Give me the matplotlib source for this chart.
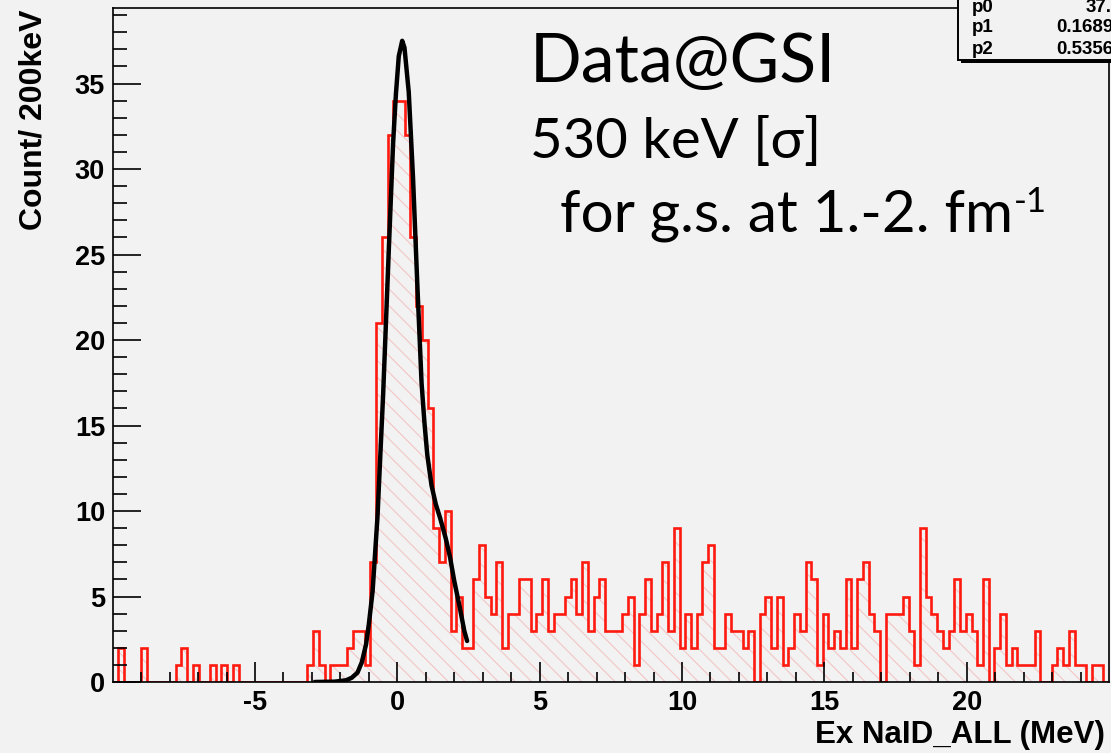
import numpy as np
import matplotlib
matplotlib.use("Agg")
import matplotlib.pyplot as plt
from matplotlib.patches import Rectangle

# histogram: 174 bins between -10 and 25 MeV
x_min, x_max = -10.0, 25.0
counts = [
    0, 2, 0, 0, 0, 2, 0, 0, 0, 0,
    0, 1, 2, 0, 1, 0, 0, 1, 0, 1,
    0, 1, 0, 0, 0, 0, 0, 0, 0, 0,
    0, 0, 0, 0, 1, 3, 1, 0, 1, 1,
    1, 2, 3, 3, 1, 7, 21, 26, 32, 34,
    34, 32, 26, 22, 20, 16, 9, 7, 10, 3,
    5, 2, 2, 6, 8, 5, 4, 7, 2, 4,
    4, 6, 6, 3, 4, 6, 3, 4, 4, 5,
    6, 4, 7, 3, 5, 6, 3, 3, 3, 4,
    5, 1, 4, 6, 3, 4, 7, 3, 9, 2,
    4, 2, 4, 7, 8, 2, 2, 4, 3, 3,
    2, 3, 0, 4, 5, 2, 5, 1, 2, 4,
    3, 7, 6, 1, 4, 2, 3, 2, 6, 2,
    6, 7, 4, 3, 0, 4, 4, 4, 5, 3,
    1, 9, 5, 4, 3, 2, 3, 6, 3, 4,
    3, 1, 6, 0, 2, 4, 1, 2, 1, 1,
    1, 3, 0, 0, 1, 2, 1, 3, 1, 1,
    0, 1, 1, 0,
]

# fitted curve, points
fit_x = [-2.9, -2.2, -1.8, -1.6, -1.4, -1.25, -1.1, -1.0, -0.87, -0.7,
         -0.5, -0.3, -0.15, -0.05, 0.05, 0.17, 0.25, 0.4, 0.55, 0.7,
         0.85, 0.95, 1.05, 1.2, 1.35, 1.5, 1.7, 1.85, 2.0, 2.2, 2.35, 2.45]
fit_y = [0.0, 0.02, 0.1, 0.25, 0.55, 1.15, 2.2, 3.4, 5.3, 9.6,
         16.8, 25.3, 31.5, 34.4, 36.6, 37.5, 37.1, 34.5, 29.5, 23.3,
         17.5, 15.2, 13.3, 11.5, 10.4, 9.6, 8.4, 7.3, 5.9, 4.3, 3.0, 2.4]

xticks = [-5, 0, 5, 10, 15, 20]
yticks = [0, 5, 10, 15, 20, 25, 30, 35]
fit_names = ["p0", "p1", "p2"]
fit_values = ["37.", "0.1689", "0.5356"]

BG = "#f2f2f2"
W, H = 1111, 753
bold = dict(family=["Liberation Sans", "DejaVu Sans"], weight="bold")
big = ["Lato", "DejaVu Sans"]

plt.rcParams["hatch.linewidth"] = 0.8
plt.rcParams["axes.unicode_minus"] = False

fig = plt.figure(figsize=(W / 100, H / 100), dpi=100, facecolor=BG)
ax = fig.add_axes([112.7 / W, 1 - 682 / H, (1109 - 112.7) / W, (682 - 8.3) / H],
                  facecolor=BG)

edges = np.linspace(x_min, x_max, len(counts) + 1)
ax.stairs(counts, edges, fill=True, facecolor="none", edgecolor="#f3c6c6",
          hatch="\\\\", linewidth=0)
ax.stairs(counts, edges, color="#ff1a10", linewidth=1.9)
ax.plot(fit_x, fit_y, color="black", linewidth=3.2, solid_capstyle="round")

ax.set_xlim(x_min, x_max)
ax.set_ylim(0, 39.4)
ax.set_xticks(xticks)
ax.set_xticks(np.arange(-9, 25, 1), minor=True)
ax.set_yticks(yticks)
ax.set_yticks(np.arange(0, 40, 1), minor=True)
ax.tick_params(which="both", direction="in", top=False, right=False,
               width=1.2, color="black")
ax.tick_params(axis="x", which="major", length=14.4, pad=5.5)
ax.tick_params(axis="x", which="minor", length=7.2)
ax.tick_params(axis="y", which="major", length=20, pad=5.5)
ax.tick_params(axis="y", which="minor", length=10)
for lab in ax.get_xticklabels() + ax.get_yticklabels():
    lab.set_fontsize(19.5)
    lab.set_fontweight("bold")
    lab.set_family(["Liberation Sans", "DejaVu Sans"])
for sp in ax.spines.values():
    sp.set_linewidth(1.2)

fig.text(33.5 / W, 1 - 10 / H, "Count/ 200keV", rotation=90, ha="center",
         va="top", fontsize=23, **bold)
fig.text(1105 / W, 1 - 735 / H, "Ex NaID_ALL (MeV)", ha="right",
         va="center", fontsize=22.5, **bold)

fig.text(530 / W, 1 - 82 / H, "Data@GSI", family=big, fontsize=49,
         va="baseline")
fig.text(530 / W, 1 - 158 / H, "530 keV [σ]", family=big, fontsize=40.5,
         va="baseline")
line3 = fig.text(560 / W, 1 - 232 / H, "for g.s. at 1.-2. fm", family=big,
                 fontsize=42, va="baseline")
fig.canvas.draw()
end_px = line3.get_window_extent().x1
fig.text((end_px + 1) / W, 1 - 212 / H, "-1", family=big, fontsize=25,
         va="baseline")

# stats box, cut by the top and right edges
fig.add_artist(Rectangle((961 / W, 1 - 63.3 / H), 200 / W, 80 / H,
                         transform=fig.transFigure, facecolor="black",
                         edgecolor="none"))
fig.add_artist(Rectangle((958 / W, 1 - 60 / H), 200 / W, 80 / H,
                         transform=fig.transFigure, facecolor=BG,
                         edgecolor="black", linewidth=1.4))
for i, (name, val) in enumerate(zip(fit_names, fit_values)):
    yy = 1 - (7 + 21 * i) / H
    fig.text(972 / W, yy, name, ha="left", va="center", fontsize=13.5, **bold)
    x0 = 1085.7 if i == 0 else 1056.7
    fig.text(x0 / W, yy, val, ha="left", va="center", fontsize=13.5, **bold)

fig.savefig("out.png", dpi=100, facecolor=BG)
